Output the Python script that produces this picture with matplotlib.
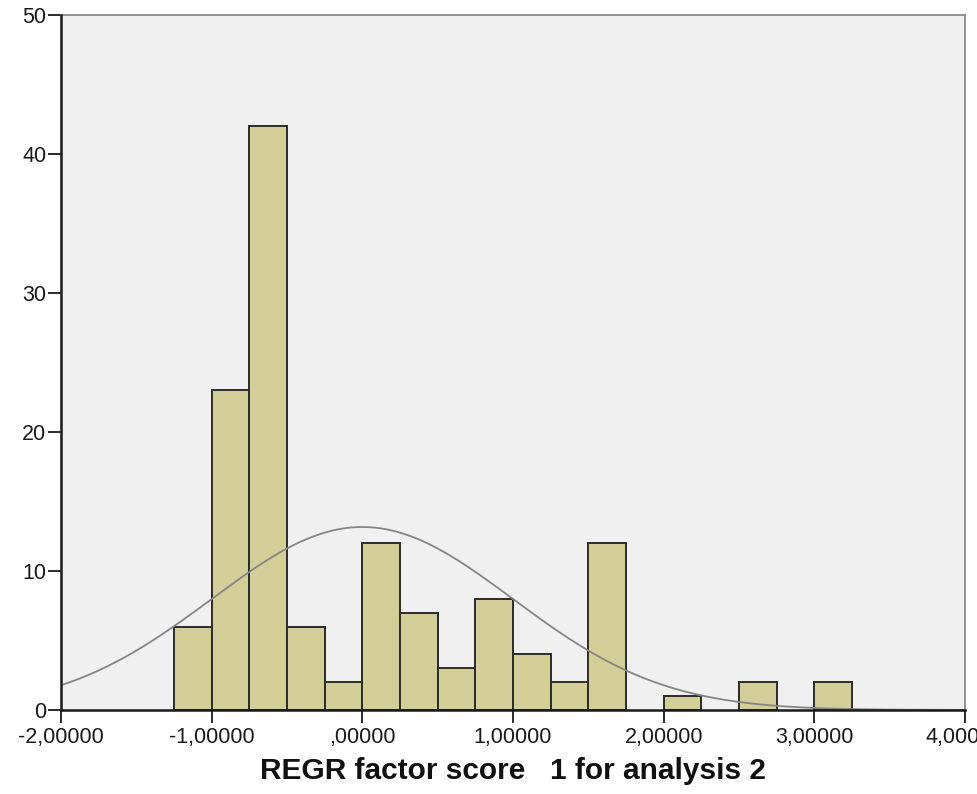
import numpy as np
import matplotlib
matplotlib.use("Agg")
import matplotlib.pyplot as plt
from matplotlib.ticker import FuncFormatter

# histogram data (bin width 0.25)
bin_left = [-1.25, -1.0, -0.75, -0.5, -0.25, 0.0, 0.25, 0.5, 0.75, 1.0,
            1.25, 1.5, 1.75, 2.0, 2.25, 2.5, 2.75, 3.0]
counts = [6, 23, 42, 6, 2, 12, 7, 3, 8, 4, 2, 12, 0, 1, 0, 2, 0, 2]
bin_width = 0.25
mean = 0.0
sd = 1.0

x_ticks = [-2, -1, 0, 1, 2, 3, 4]
y_ticks = [0, 10, 20, 30, 40, 50]

plt.rcParams['font.family'] = ['Liberation Sans', 'DejaVu Sans']

fig = plt.figure(figsize=(9.78, 7.94), dpi=100)
fig.patch.set_facecolor('white')
ax = fig.add_axes([61/978, 84/794, 904/978, 695/794])
ax.set_facecolor('#f0f0f0')

# bars
for xl, c in zip(bin_left, counts):
    if c > 0:
        ax.bar(xl, c, width=bin_width, align='edge', color='#d3ce97',
               edgecolor='#2b2b2b', linewidth=1.4, zorder=2)

# normal curve
n = sum(counts)
xs = np.linspace(-2, 4, 400)
ys = n * bin_width / (sd * np.sqrt(2*np.pi)) * np.exp(-0.5*((xs-mean)/sd)**2)
ax.plot(xs, ys, color='#858585', linewidth=1.3, zorder=3)

ax.set_xlim(-2, 4)
ax.set_ylim(0, 50)
ax.set_xticks(x_ticks)
ax.set_yticks(y_ticks)

def fmt(v, pos):
    s = "%.5f" % v
    s = s.replace('.', ',')
    if s.startswith('0,'):
        s = s[1:]
    elif s.startswith('-0,'):
        s = '-' + s[2:]
    return s

ax.xaxis.set_major_formatter(FuncFormatter(fmt))
ax.tick_params(axis='both', direction='out', length=9.5, width=1.3,
               labelsize=15.5, colors='#1a1a1a', pad=1)
ax.tick_params(axis='x', pad=3)

for s in ['left', 'bottom']:
    ax.spines[s].set_color('#1a1a1a')
    ax.spines[s].set_linewidth(1.8)
for s in ['top', 'right']:
    ax.spines[s].set_color('#8a8a8a')
    ax.spines[s].set_linewidth(1.3)
ax.spines['left'].set_zorder(4)
ax.spines['bottom'].set_zorder(4)

ax.set_xlabel('REGR factor score   1 for analysis 2', fontsize=21.5,
              fontweight='bold', labelpad=6, color='#111111')

fig.savefig('out.png', dpi=100)
